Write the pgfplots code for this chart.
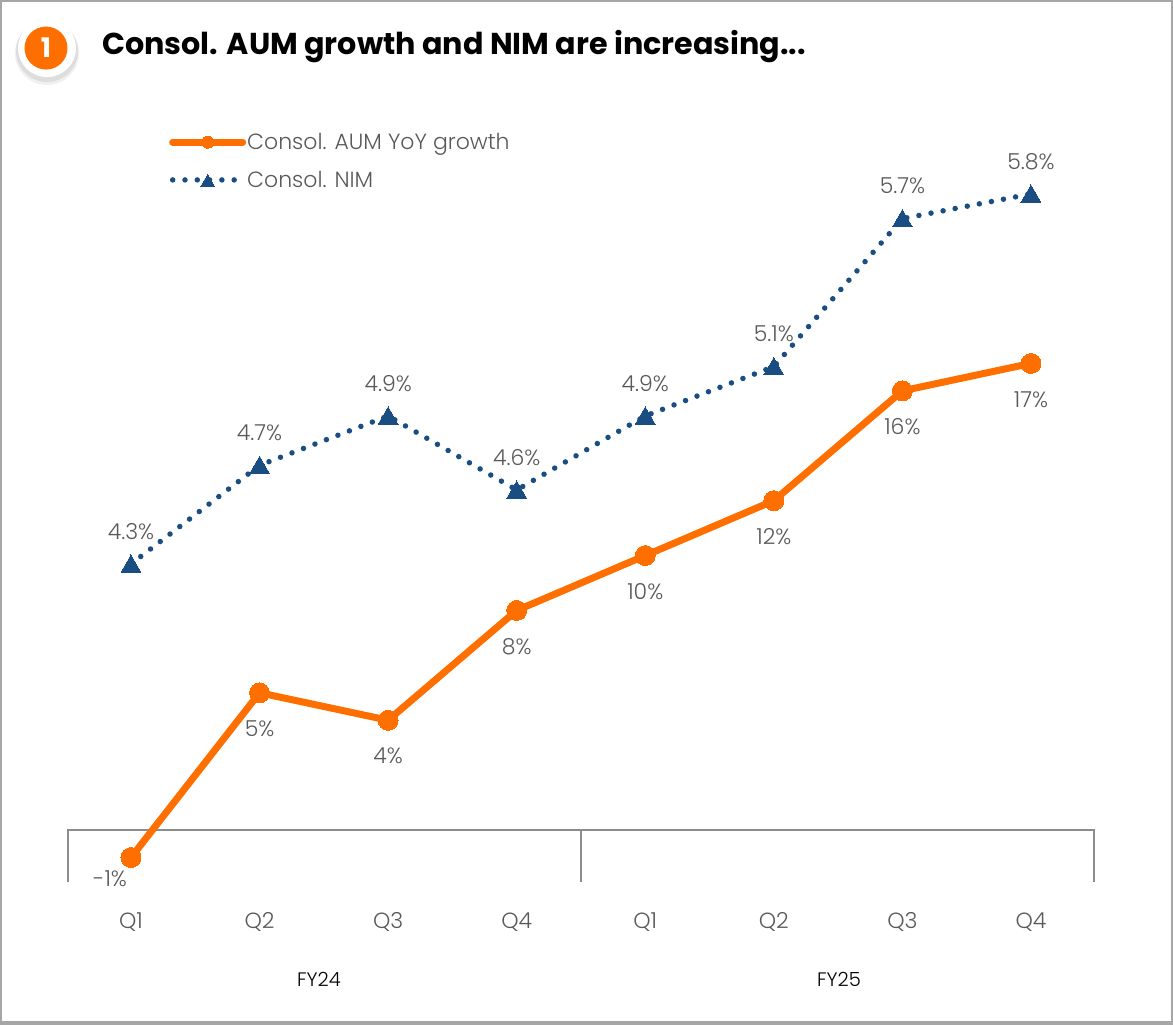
\documentclass[border=0pt]{standalone}
\usepackage{fontspec}
\setmainfont{Poppins}[BoldFont=Poppins Bold]
\newfontfamily\lightfont{Poppins Light}
\usepackage{pgfplots}
\pgfplotsset{compat=1.18}
\usepackage{pgfplotstable}

\definecolor{aumorange}{HTML}{FF6F00}
\definecolor{nimblue}{HTML}{1A4E82}
\definecolor{labelgray}{HTML}{595959}
\definecolor{bracketgray}{HTML}{8C8C8C}
\definecolor{framegray}{HTML}{A6A6A6}

\pgfplotstableread{
x y label dx dy
0 -1 -1 -21 -21
1 5 5 0 -36
2 4 4 0 -36
3 8 8 0 -36
4 10 10 0 -36
5 12 12 0 -36
6 16 16 0 -36
7 17 17 0 -36
}\aumdata

\pgfplotstableread{
x y label dx dy
0 4.3 4.3 0 35
1 4.7 4.7 0 35
2 4.9 4.9 0 35
3 4.6 4.6 0 35
4 4.9 4.9 0 35
5 5.1 5.1 0 35
6 5.7 5.7 0 35
7 5.8 5.8 0 35
}\nimdata

\pgfplotsset{
  every axis/.append style={
    at={(0pt,0pt)}, anchor=south west,
    scale only axis, width=1173pt, height=1025pt,
    axis line style={draw=none},
    ytick=\empty,
    major tick length=0pt
  },
  data labels/.style={
    point meta=explicit symbolic,
    visualization depends on={\thisrow{dx} \as \dx},
    visualization depends on={\thisrow{dy} \as \dy},
    nodes near coords={\pgfplotspointmeta\%},
    every node near coord/.append style={
      anchor=center, inner sep=0pt, xshift=\dx pt, yshift=\dy pt,
      font=\fontsize{22}{26}\selectfont\lightfont, text=labelgray
    }
  },
  aumline/.style={aumorange, line width=7pt, line cap=round, line join=round,
    mark=*, mark size=10pt, mark options={fill=aumorange, draw=none, line width=0pt}},
  nimline/.style={nimblue, line width=5.5pt, line cap=round, dash pattern=on 0pt off 12.3pt,
    mark=triangle*, mark size=11.5pt, mark options={solid, yshift=-2.5pt, fill=nimblue, draw=none, line width=0pt}}
}

\begin{document}
\begin{tikzpicture}

% page furniture, in reference pixels
\begin{axis}[
  xmin=0, xmax=1173, ymin=0, ymax=1025, y dir=reverse,
  xtick=\empty
]
\addplot [framegray, line width=2pt] coordinates {(1,1022) (1,1) (1172,1) (1172,1022)};
\addplot [framegray, line width=4pt] coordinates {(0,1022.5) (1173,1022.5)};
\addplot [bracketgray, line width=2pt] coordinates {(68,882) (68,830) (1094,830) (1094,882)};
\addplot [bracketgray, line width=2pt] coordinates {(581,830) (581,882)};

\fill [black, opacity=0.06] (axis cs:47,53) circle [radius=32pt];
\fill [black, opacity=0.08] (axis cs:47,51) circle [radius=31pt];
\fill [white] (axis cs:47,48) circle [radius=29pt];
\fill [aumorange] (axis cs:46,48) circle [radius=21.5pt];
\node [text=white, font=\fontsize{27}{30}\selectfont\bfseries, anchor=center] at (axis cs:46,48) {1};

\node [anchor=base west, inner sep=0pt, font=\fontsize{30.2}{34}\selectfont\bfseries] at (axis cs:102,54)
  {Consol. AUM growth and NIM are increasing...};
\node [anchor=center, font=\fontsize{19.5}{22}\selectfont\lightfont] at (axis cs:319,979) {FY24};
\node [anchor=center, font=\fontsize{19.5}{22}\selectfont\lightfont] at (axis cs:839,979) {FY25};
\end{axis}

% AUM growth, 27.45 px per point, zero on the bracket line
\begin{axis}[
  xmin=-1.0189, xmax=8.105, ymin=-7.104, ymax=30.237,
  xtick={0,...,7},
  xticklabels={Q1,Q2,Q3,Q4,Q1,Q2,Q3,Q4},
  xticklabel style={anchor=center, yshift=103pt, text=labelgray,
    font=\fontsize{22}{26}\selectfont\lightfont}
]
\addplot [aumline, data labels] table [x=x, y=y, meta=label] {\aumdata};
\end{axis}

% NIM on its own scale
\begin{axis}[
  xmin=-1.0189, xmax=8.105, ymin=2.431, ymax=6.586,
  xtick=\empty,
  legend image code/.code={
    \draw[mark repeat=2, mark phase=2, #1] plot coordinates {(0pt,0pt) (35pt,0pt) (70pt,0pt)};
  },
  legend style={at={(169pt,892pt)}, anchor=north west, draw=none, fill=none,
    row sep=20pt, inner sep=0pt, text=labelgray,
    font=\fontsize{22}{26}\selectfont\lightfont,
    nodes={inner sep=0pt, anchor=west}},
  legend cell align={left}
]
\addlegendimage{aumline, mark size=6pt}
\addlegendentry{\hspace{1pt}Consol. AUM YoY growth}
\addlegendimage{nimline, mark size=8pt}
\addlegendentry{\hspace{1pt}Consol. NIM}
\addplot [nimline, data labels, forget plot] table [x=x, y=y, meta=label] {\nimdata};
\end{axis}

\end{tikzpicture}
\end{document}
